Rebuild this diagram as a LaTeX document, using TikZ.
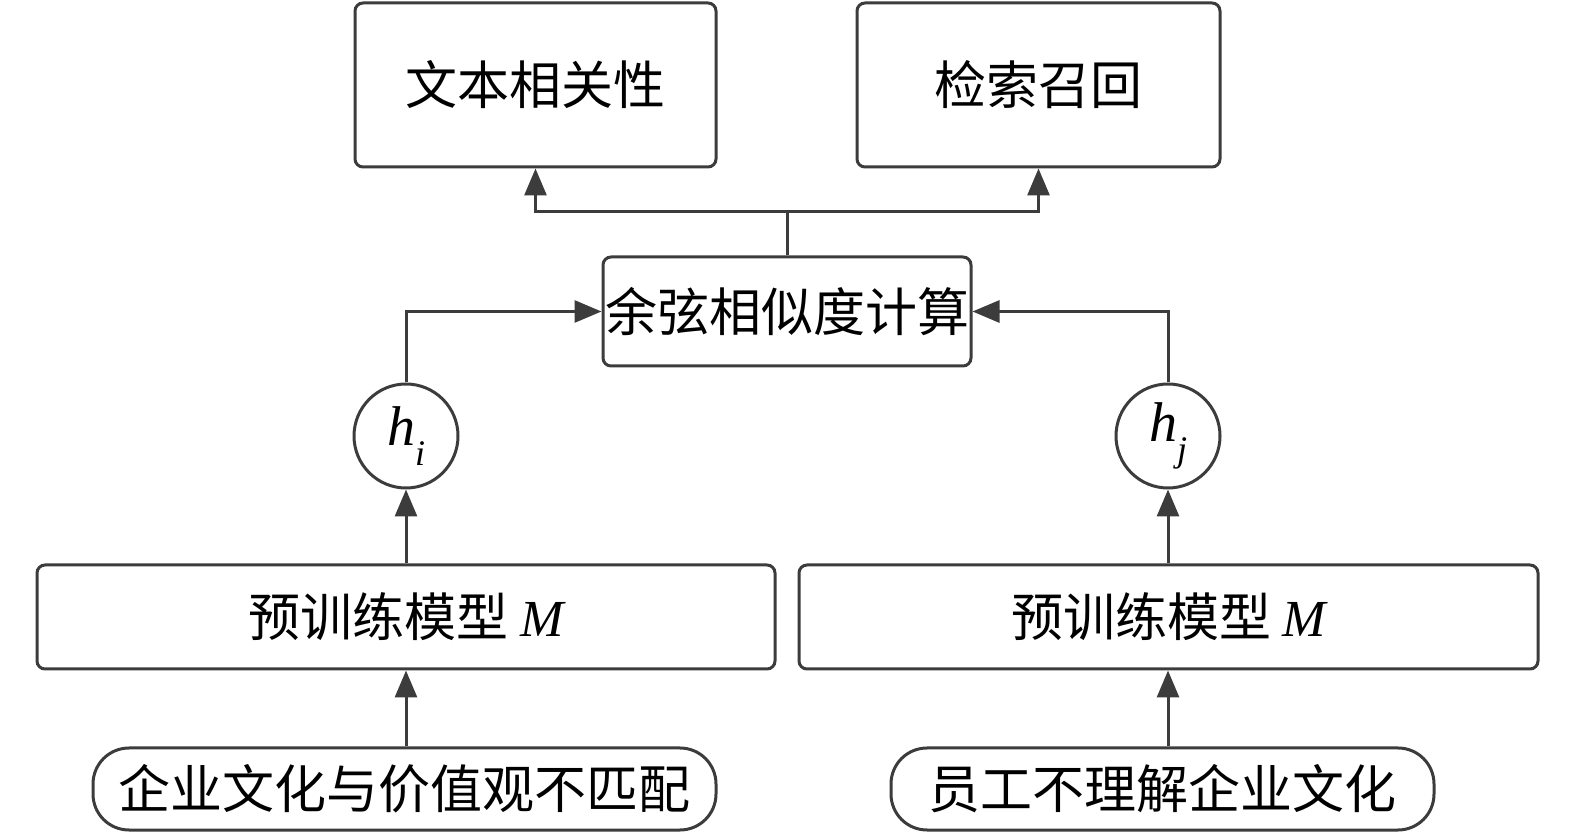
\documentclass[tikz,border=0pt]{standalone}
\usepackage{fontspec}
\setmainfont{Liberation Serif}
\newfontfamily\cjkfont{Noto Sans CJK SC}
\usetikzlibrary{arrows.meta}
\definecolor{linec}{HTML}{3C3C3C}
\begin{document}
\begin{tikzpicture}[x=0.5pt,y=-0.5pt]
\tikzset{
  box/.style={draw=linec, line width=1.5pt, rounded corners=4pt, fill=white, inner sep=0pt,
    font=\cjkfont\fontsize{26}{30}\selectfont, text=black},
  pill/.style={box, rounded corners=18pt},
  hnode/.style={draw=linec, circle, line width=1.5pt, minimum size=52pt, inner sep=0pt,
    font=\fontsize{28}{30}\selectfont, fill=white},
  arr/.style={draw=linec, line width=1.5pt, -{Triangle[length=13.5pt,width=11pt]}},
  conn/.style={draw=linec, line width=1.5pt},
}
\useasboundingbox (0,0) rectangle (1575,833);
\node[box, minimum width=180.5pt, minimum height=82pt] (A) at (535.5,85) {文本相关性};
\node[box, minimum width=181.5pt, minimum height=82pt] (B) at (1038.5,85) {检索召回};
\node[box, minimum width=184pt, minimum height=54.5pt] (C) at (787,311.5) {余弦相似度计算};
\node[hnode] (hi) at (406,436) {\textit{h}\raisebox{-0.35em}{\fontsize{18}{18}\selectfont\textit{i}}};
\node[hnode] (hj) at (1168,436) {\textit{h}\raisebox{-0.35em}{\fontsize{18}{18}\selectfont\textit{j}}};
\node[box, minimum width=369pt, minimum height=52pt] (D) at (406,617) {预训练模型 {\rmfamily\itshape M}};
\node[box, minimum width=369.5pt, minimum height=52pt] (E) at (1168.5,617) {预训练模型 {\rmfamily\itshape M}};
\node[pill, minimum width=311.5pt, minimum height=41pt] (F) at (404.5,789) {企业文化与价值观不匹配};
\node[pill, minimum width=271.5pt, minimum height=41pt] (G) at (1162.5,789) {员工不理解企业文化};
\coordinate (J) at (787,212);
\draw[arr] (F.north -| hi) -- (D.south -| hi);
\draw[arr] (D.north -| hi) -- (hi.south);
\draw[arr] (hi.north) |- (C.west);
\draw[arr] (G.north -| hj) -- (E.south -| hj);
\draw[arr] (E.north -| hj) -- (hj.south);
\draw[arr] (hj.north) |- (C.east);
\draw[conn] (C.north) -- (J);
\draw[arr] (J) -| (A.south);
\draw[arr] (J) -| (B.south);
\end{tikzpicture}
\end{document}
